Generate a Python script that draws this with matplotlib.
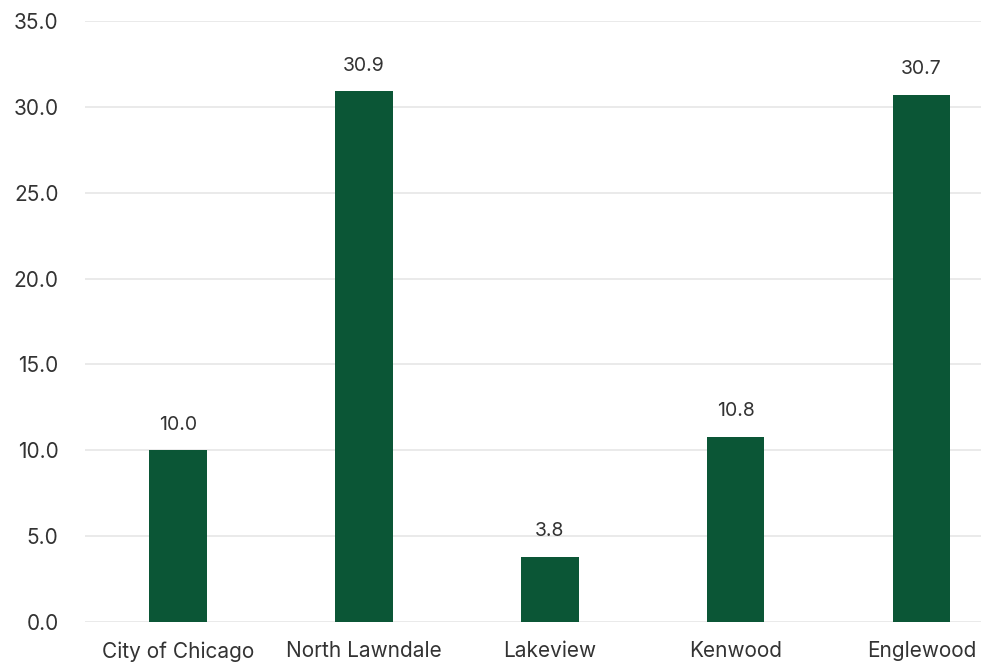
import matplotlib.pyplot as plt

# Data
areas = ["City of Chicago", "North Lawndale", "Lakeview", "Kenwood", "Englewood"]
values = [10.0, 30.9, 3.8, 10.8, 30.7]
yticks = [0, 5, 10, 15, 20, 25, 30, 35]

plt.rcParams['font.family'] = ['Inter', 'DejaVu Sans']

fig = plt.figure(figsize=(9.81, 6.68), dpi=100)
ax = fig.add_axes([0.0866, 0.0689, 0.9134, 0.8997])

x = range(len(areas))
ax.bar(x, values, width=0.31, color="#0b5636", zorder=3)

for xi, v in zip(x, values):
    ax.text(xi, v + 0.95, f"{v:.1f}", ha="center", va="bottom", fontsize=14, color="#333333")

ax.set_ylim(0, 35)
ax.set_xlim(-0.5, 4.32)
ax.set_yticks(yticks)
ax.set_yticklabels([f"{t:.1f}" for t in yticks])
ax.set_xticks(list(x))
ax.set_xticklabels(areas)
ax.tick_params(axis="both", length=0, labelsize=15, labelcolor="#333333")
ax.tick_params(axis="y", pad=19)
ax.tick_params(axis="x", pad=14)

ax.grid(axis="y", color="#e6e6e6", linewidth=1.2, zorder=0)
for s in ax.spines.values():
    s.set_visible(False)

fig.savefig("out.png", dpi=100)
